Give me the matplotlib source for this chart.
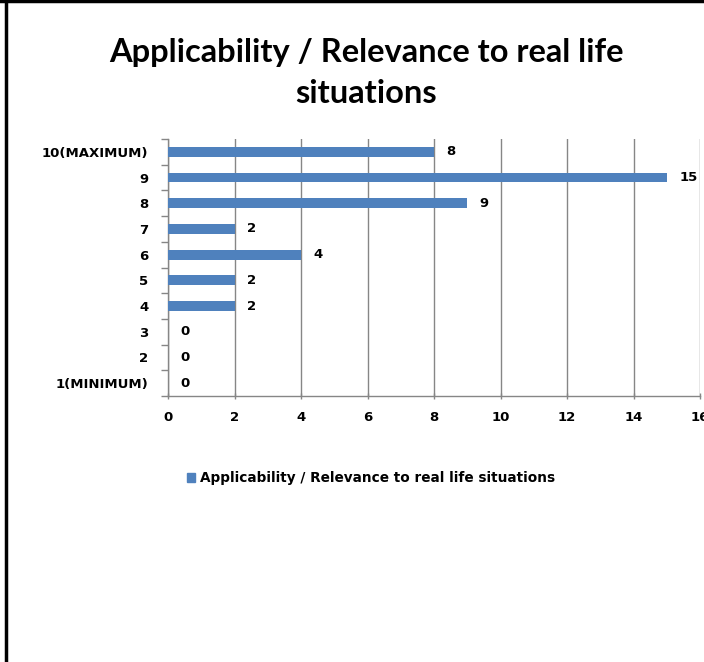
import matplotlib
matplotlib.use("Agg")
import matplotlib.pyplot as plt
from matplotlib.lines import Line2D
from matplotlib.patches import Patch
import numpy as np

categories = ["1(MINIMUM)", "2", "3", "4", "5", "6", "7", "8", "9", "10(MAXIMUM)"]
values = [0, 0, 0, 2, 2, 4, 2, 9, 15, 8]
x_ticks = [0, 2, 4, 6, 8, 10, 12, 14, 16]
title = "Applicability / Relevance to real life\nsituations"
series_name = "Applicability / Relevance to real life situations"

BAR = "#4F81BD"
GRID = "#868686"
FS = 9.5

W, H = 704, 662
fig = plt.figure(figsize=(W / 100, H / 100), dpi=100)
ax = fig.add_axes([168 / W, 1 - 396 / H, (700 - 168) / W, (396 - 139) / H])

y = np.arange(len(categories))
ax.barh(y, values, height=0.38, color=BAR, zorder=3)

ax.set_xlim(0, 16)
ax.set_ylim(-0.5, len(categories) - 0.5)
ax.set_xticks(x_ticks)
ax.set_xticklabels([str(t) for t in x_ticks])
ax.set_yticks(y)
ax.set_yticklabels(categories)
ax.set_yticks(np.arange(-0.5, len(categories), 1.0), minor=True)
ax.tick_params(axis="y", which="major", length=0, pad=14, labelsize=FS)
ax.tick_params(axis="y", which="minor", length=5, color=GRID, width=1, direction="out")
ax.tick_params(axis="x", which="major", length=5, color=GRID, width=1, direction="inout", pad=8, labelsize=FS)
for lab in ax.get_xticklabels() + ax.get_yticklabels():
    lab.set_fontweight("bold")

ax.grid(axis="x", color=GRID, linewidth=1, zorder=0)
for s in ["top", "right"]:
    ax.spines[s].set_visible(False)
for s in ["left", "bottom"]:
    ax.spines[s].set_color(GRID)
    ax.spines[s].set_linewidth(1)
ax.spines["bottom"].set_zorder(1)

for yi, v in zip(y, values):
    ax.annotate(str(v), (v, yi), xytext=(9, 0), textcoords="offset points",
                va="center", ha="left", fontsize=FS, fontweight="bold", color="black")

fig.text(366 / W, 1 - 73 / H, title, ha="center", va="center", fontsize=23.5,
         fontweight="bold", family="Lato", linespacing=1.5)

handles = [Patch(facecolor=BAR, edgecolor=BAR, label=series_name)]
fig.legend(handles=handles, loc="center", bbox_to_anchor=(371 / W, 1 - 478 / H),
           frameon=False, prop={"size": 9.8, "weight": "bold"},
           handlelength=0.6, handleheight=0.6, handletextpad=0.4)

fig.add_artist(Line2D([5.5 / W, 5.5 / W], [0, 1], color="black", linewidth=2.5,
                      transform=fig.transFigure))
fig.add_artist(Line2D([0, 1], [1 - 1 / H, 1 - 1 / H], color="black", linewidth=2.5,
                      transform=fig.transFigure))

fig.savefig("out.png", dpi=100)
